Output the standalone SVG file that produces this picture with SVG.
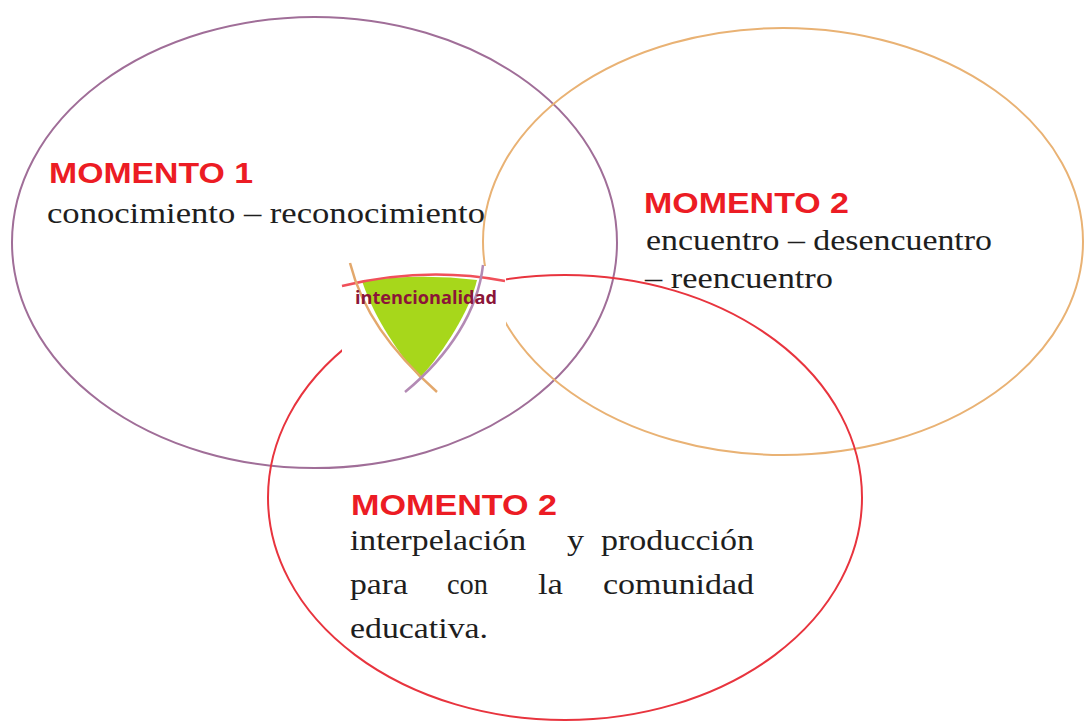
<svg xmlns="http://www.w3.org/2000/svg" width="1085" height="723" viewBox="0 0 1085 723">
<style>
.ring{fill:none;stroke-width:2}
.head{font-family:"Liberation Sans",Arial,sans-serif;font-weight:bold;font-size:29px;fill:#ec1c24}
.body{font-family:"Liberation Serif","Times New Roman",Times,serif;font-size:30px;fill:#1e1e1e}
.tag{font-family:"Open Sans","Noto Sans",sans-serif;font-weight:bold;font-size:18px;fill:#8b1538}
</style>
<rect width="1085" height="723" fill="#fff"/>
<g id="momento1">
<ellipse class="ring" cx="314.5" cy="242.5" rx="302.5" ry="225.5" stroke="#a06e98"/>
</g>
<g id="momento2a">
<ellipse class="ring" cx="783" cy="241.5" rx="300" ry="213.5" stroke="#e9b274"/>
</g>
<g id="momento2b">
<ellipse class="ring" cx="565" cy="497.5" rx="297" ry="222.5" stroke="#e8343e"/>
</g>
<g id="intencionalidad">
<rect x="342" y="266" width="164" height="126" fill="#fff"/>
<path d="M362,281 Q420,273 477,280 C470,310 445,350 420,378 C400,355 375,320 362,281 Z" fill="#a7d71b"/>
<path d="M342,286 Q425,266 505,281" fill="none" stroke="#f0505a" stroke-width="2.5"/>
<path d="M350,263 C362,310 390,350 437,392" fill="none" stroke="#e3a86c" stroke-width="2.5"/>
<path d="M483,265 C478,310 450,355 405,392" fill="none" stroke="#b38ab4" stroke-width="2.5"/>
<text class="tag" x="355" y="304" textLength="142" lengthAdjust="spacingAndGlyphs">intencionalidad</text>
</g>
<g id="labels">
<text class="head" x="49" y="183" textLength="204" lengthAdjust="spacingAndGlyphs">MOMENTO 1</text>
<text class="body" x="47" y="223" textLength="438" lengthAdjust="spacingAndGlyphs">conocimiento – reconocimiento</text>
<text class="head" x="644" y="213" textLength="205" lengthAdjust="spacingAndGlyphs">MOMENTO 2</text>
<text class="body" x="646" y="250" textLength="346" lengthAdjust="spacingAndGlyphs">encuentro – desencuentro</text>
<text class="body" x="645" y="288" textLength="188" lengthAdjust="spacingAndGlyphs">– reencuentro</text>
<text class="head" x="351" y="515" textLength="206" lengthAdjust="spacingAndGlyphs">MOMENTO 2</text>
<text class="body" x="350" y="550" textLength="176" lengthAdjust="spacingAndGlyphs">interpelación</text>
<text class="body" x="567" y="550" textLength="17" lengthAdjust="spacingAndGlyphs">y</text>
<text class="body" x="601" y="550" textLength="153" lengthAdjust="spacingAndGlyphs">producción</text>
<text class="body" x="350" y="594" textLength="58" lengthAdjust="spacingAndGlyphs">para</text>
<text class="body" x="447" y="594" textLength="41" lengthAdjust="spacingAndGlyphs">con</text>
<text class="body" x="538" y="594" textLength="25" lengthAdjust="spacingAndGlyphs">la</text>
<text class="body" x="603" y="594" textLength="151" lengthAdjust="spacingAndGlyphs">comunidad</text>
<text class="body" x="350" y="638" textLength="138" lengthAdjust="spacingAndGlyphs">educativa.</text>
</g>
</svg>
